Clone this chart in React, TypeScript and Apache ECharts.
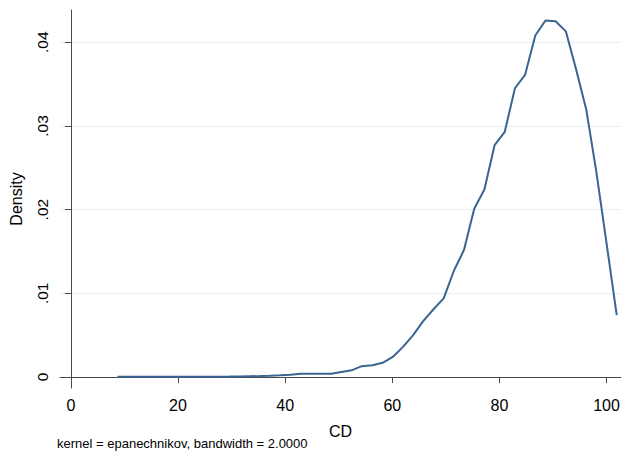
import React, { useEffect, useRef } from "react";
import * as echarts from "echarts";

// Evaluation points of the kernel density estimate (CD) and the estimated density
const cdPoints = [
  8.7, 10.6, 12.5, 14.4, 16.3, 18.2, 20.1, 22.0, 23.9, 25.8,
  27.7, 29.6, 31.5, 33.4, 35.3, 37.2, 39.1, 41.0, 42.9, 44.8,
  46.7, 48.6, 50.5, 52.4, 54.3, 56.3, 58.2, 60.1, 62.0, 63.9,
  65.8, 67.7, 69.6, 71.5, 73.4, 75.3, 77.2, 79.1, 81.0, 82.9,
  84.8, 86.7, 88.6, 90.5, 92.4, 94.3, 96.2, 98.1, 100.0, 101.9,
];
const densityValues = [
  0.00003, 0.00003, 0.00003, 0.00002, 0.00002, 0.00002, 0.00002, 0.00002, 0.00003, 0.00003,
  0.00004, 0.00005, 0.00007, 0.0001, 0.00012, 0.00015, 0.0002, 0.00028, 0.00038, 0.0004,
  0.0004, 0.0004, 0.0006, 0.0008, 0.0013, 0.0014, 0.0017, 0.0024, 0.0036, 0.005,
  0.0067, 0.0081, 0.0094, 0.0127, 0.0152, 0.0201, 0.0224, 0.0277, 0.0293, 0.0345,
  0.0361, 0.0408, 0.0426, 0.0425, 0.0413, 0.0368, 0.032, 0.0245, 0.016, 0.0074,
];
const xTicks = [0, 20, 40, 60, 80, 100];
const yTicks = [0, 0.01, 0.02, 0.03, 0.04];
const footnote = "kernel = epanechnikov, bandwidth = 2.0000";

const FONT = '"Liberation Sans", Arial, Helvetica, sans-serif';
const AXIS_COLOR = "#4a4a4a";
const TEXT_COLOR = "#000";

export default function App() {
  const ref = useRef<HTMLDivElement>(null);

  useEffect(() => {
    if (!ref.current) return;
    const chart = echarts.init(ref.current, null, { renderer: "svg" });
    const data = cdPoints.map((x, i) => [x, densityValues[i]]);
    chart.setOption({
      animation: false,
      backgroundColor: "#ffffff",
      textStyle: { fontFamily: FONT },
      grid: { left: 54, top: 10, width: 567, height: 378 },
      xAxis: {
        type: "value",
        min: -2.03,
        max: 102.7,
        name: "CD",
        nameLocation: "middle",
        nameGap: 35,
        nameTextStyle: { fontSize: 16, color: TEXT_COLOR, fontFamily: FONT },
        axisLine: { show: true, lineStyle: { color: AXIS_COLOR, width: 1 } },
        axisTick: { show: true, length: 6, customValues: xTicks, lineStyle: { color: AXIS_COLOR } },
        axisLabel: {
          customValues: xTicks,
          margin: 9,
          fontSize: 16,
          color: TEXT_COLOR,
          fontFamily: FONT,
        },
        splitLine: { show: false },
      },
      yAxis: {
        type: "value",
        min: -0.00131,
        max: 0.04385,
        name: "Density",
        nameLocation: "middle",
        nameGap: 36,
        nameTextStyle: { fontSize: 16, color: TEXT_COLOR, fontFamily: FONT },
        axisLine: { show: true, lineStyle: { color: AXIS_COLOR, width: 1 } },
        axisTick: { show: true, length: 6, customValues: yTicks, lineStyle: { color: AXIS_COLOR } },
        axisLabel: {
          customValues: yTicks,
          rotate: 90,
          margin: 10,
          fontSize: 15.5,
          color: TEXT_COLOR,
          fontFamily: FONT,
          formatter: (v: number) => (v === 0 ? "0" : String(+v.toFixed(2)).replace(/^0/, "")),
        },
        splitLine: { show: true, lineStyle: { color: "#e8f0f2", width: 1 } },
      },
      series: [
        {
          type: "line",
          data,
          showSymbol: false,
          symbol: "none",
          lineStyle: { color: "#3a6491", width: 2 },
          z: 3,
        },
      ],
      graphic: [
        {
          type: "text",
          left: 57,
          top: 437,
          style: { text: footnote, fontSize: 13, fill: TEXT_COLOR, fontFamily: FONT },
        },
      ],
    });
    return () => chart.dispose();
  }, []);

  return (
    <div
      ref={ref}
      style={{ position: "fixed", left: 0, top: 0, width: 624, height: 455, background: "#fff" }}
    />
  );
}
